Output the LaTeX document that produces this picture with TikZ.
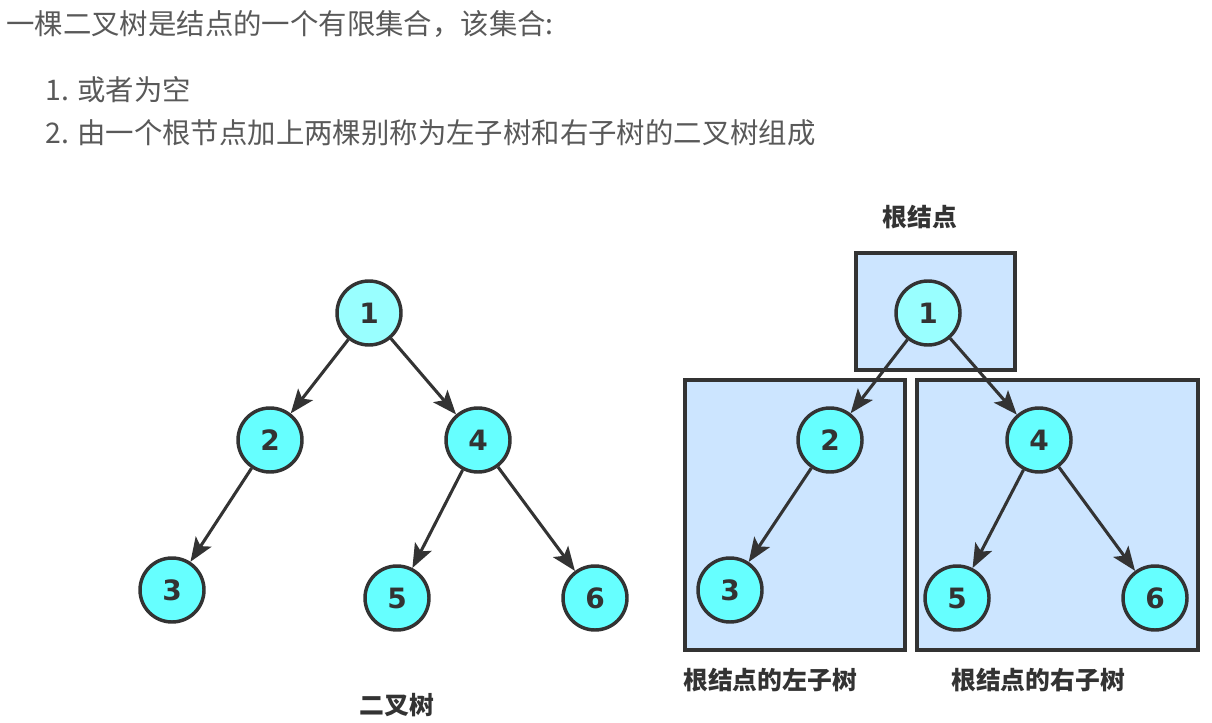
\documentclass[tikz,border=0pt]{standalone}
\usepackage{fontspec}
\usetikzlibrary{arrows.meta}
\newfontfamily\cjk{Noto Sans CJK SC}
\newfontfamily\numfont{DejaVu Sans}
\definecolor{txtgray}{HTML}{595959}
\definecolor{ink}{HTML}{333333}
\definecolor{nodecyan}{HTML}{66FFFF}
\definecolor{rootcyan}{HTML}{99FFFF}
\definecolor{boxblue}{HTML}{CCE5FF}
\tikzset{
  x=0.75pt, y=-0.75pt,
  tnode/.style={circle, draw=ink, line width=2.6pt, fill=nodecyan, minimum size=48pt, inner sep=0pt,
    font=\numfont\bfseries\fontsize{21}{21}\selectfont, text=ink},
  rnode/.style={tnode, fill=rootcyan},
  edge/.style={draw=ink, line width=2.3pt, -{Stealth[length=18pt,width=14pt,inset=4pt]}},
  subbox/.style={draw=ink, line width=2.6pt, fill=boxblue},
  head/.style={anchor=west, inner sep=0pt, font=\cjk\fontsize{21.3}{21.3}\selectfont, text=txtgray},
  lbl/.style={inner sep=0pt, font=\cjk\bfseries\fontsize{18.6}{18.6}\selectfont, text=ink}
}
\begin{document}
\begin{tikzpicture}
\useasboundingbox (0,0) rectangle (1212,723);
% header text
\node[head] (h1) at (6,24) {一棵二叉树是结点的一个有限集合，该集合:};
\node[head] (h2) at (45,90) {1. 或者为空};
\node[head] (h3) at (45,133) {2. 由一个根节点加上两棵别称为左子树和右子树的二叉树组成};
% left tree
\node[rnode] (a1) at (369,313) {1};
\node[tnode] (a2) at (270,440) {2};
\node[tnode] (a4) at (478,440) {4};
\node[tnode] (a3) at (172,590) {3};
\node[tnode] (a5) at (397,598) {5};
\node[tnode] (a6) at (595,598) {6};
\draw[edge] (a1) -- (a2);
\draw[edge] (a1) -- (a4);
\draw[edge] (a2) -- (a3);
\draw[edge] (a4) -- (a5);
\draw[edge] (a4) -- (a6);
\node[lbl] (la) at (397,705) {二叉树};
% right tree with boxes
\path[subbox] (856,253) rectangle (1015,370);
\path[subbox] (685,380) rectangle (905,650);
\path[subbox] (917,380) rectangle (1198,650);
\node[rnode] (b1) at (928,313) {1};
\node[tnode] (b2) at (830,440) {2};
\node[tnode] (b4) at (1039,440) {4};
\node[tnode] (b3) at (730,590) {3};
\node[tnode] (b5) at (957,598) {5};
\node[tnode] (b6) at (1155,598) {6};
\draw[edge] (b1) -- (b2);
\draw[edge] (b1) -- (b4);
\draw[edge] (b2) -- (b3);
\draw[edge] (b4) -- (b5);
\draw[edge] (b4) -- (b6);
\node[lbl] (lr) at (920,217) {根结点};
\node[lbl] (ll) at (770,680) {根结点的左子树};
\node[lbl] (lrr) at (1038,680) {根结点的右子树};
\end{tikzpicture}
\end{document}
